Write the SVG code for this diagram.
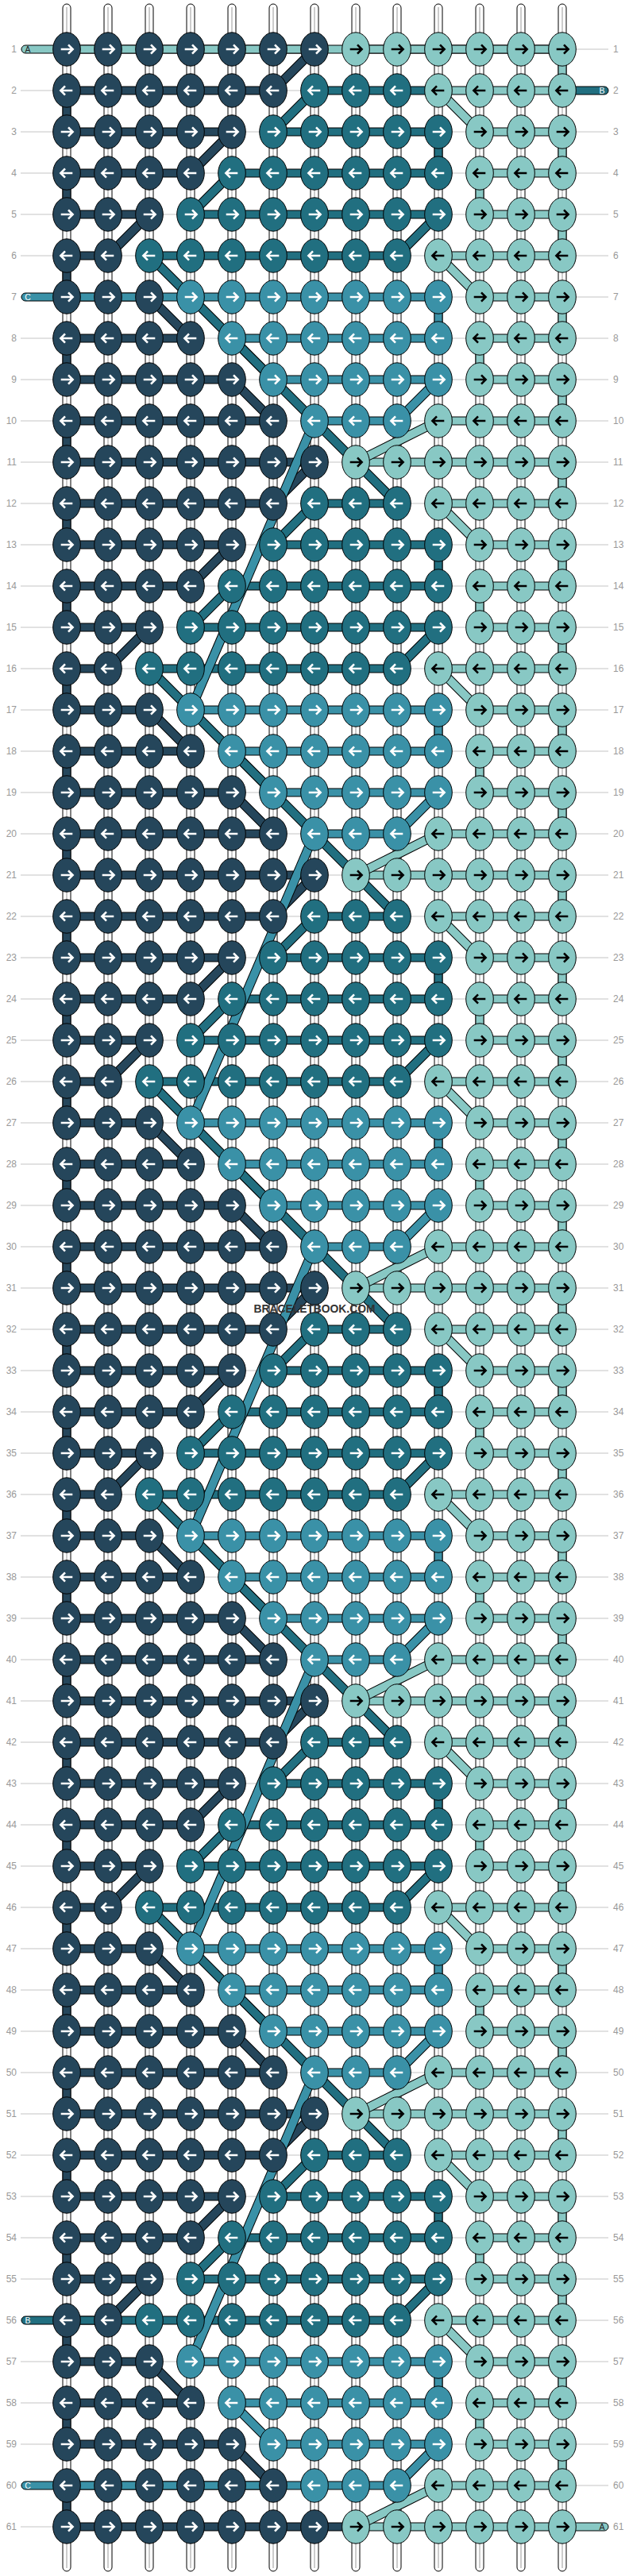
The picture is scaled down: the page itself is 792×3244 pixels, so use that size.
<svg xmlns="http://www.w3.org/2000/svg" width="792" height="3244" viewBox="0 0 792 3244">
<style>
.bg{fill:#fff}
.s{fill:#fff;stroke:#000;stroke-width:1}
.sl{fill:none;stroke:#999;stroke-width:1}
.gl{fill:none;stroke:#c4c4c4;stroke-width:1}
.k{stroke:#000;stroke-width:1}
.b{stroke:#000;stroke-width:1}
.N{fill:#25465b}.T{fill:#216f80}.M{fill:#3a91a7}.L{fill:#88c8c4}
.aw{fill:none;stroke:#fff;stroke-width:2.6}
.ab{fill:none;stroke:#000;stroke-width:2.6}
.o{fill:none;stroke:#000;stroke-width:12}
.dN{fill:none;stroke:#25465b;stroke-width:10}
.dT{fill:none;stroke:#216f80;stroke-width:10}
.dM{fill:none;stroke:#3a91a7;stroke-width:10}
.dL{fill:none;stroke:#88c8c4;stroke-width:10}
.nl{font-family:"Liberation Sans",Arial,sans-serif;font-size:12px;fill:#999;text-anchor:end}
.nr{font-family:"Liberation Sans",Arial,sans-serif;font-size:12px;fill:#999;text-anchor:start}
.el{font-family:"Liberation Sans",Arial,sans-serif;font-size:10.5px;text-anchor:middle}
.wm{font-family:"Liberation Sans",Arial,sans-serif;font-size:15px;font-weight:bold;fill:#333;text-anchor:middle}
</style>
<defs>
<g id="kNr"><ellipse class="k N" rx="17.3" ry="21.2"/><path class="aw" d="M-7.3 0H6.5M2-5.6L7.6 0L2 5.6"/></g>
<g id="kNl"><ellipse class="k N" rx="17.3" ry="21.2"/><path class="aw" d="M7.3 0H-6.5M-2-5.6L-7.6 0L-2 5.6"/></g>
<g id="kTr"><ellipse class="k T" rx="17.3" ry="21.2"/><path class="aw" d="M-7.3 0H6.5M2-5.6L7.6 0L2 5.6"/></g>
<g id="kTl"><ellipse class="k T" rx="17.3" ry="21.2"/><path class="aw" d="M7.3 0H-6.5M-2-5.6L-7.6 0L-2 5.6"/></g>
<g id="kMr"><ellipse class="k M" rx="17.3" ry="21.2"/><path class="aw" d="M-7.3 0H6.5M2-5.6L7.6 0L2 5.6"/></g>
<g id="kMl"><ellipse class="k M" rx="17.3" ry="21.2"/><path class="aw" d="M7.3 0H-6.5M-2-5.6L-7.6 0L-2 5.6"/></g>
<g id="kLr"><ellipse class="k L" rx="17.3" ry="21.2"/><path class="ab" d="M-7.3 0H6.5M2-5.6L7.6 0L2 5.6"/></g>
<g id="kLl"><ellipse class="k L" rx="17.3" ry="21.2"/><path class="ab" d="M7.3 0H-6.5M-2-5.6L-7.6 0L-2 5.6"/></g>
<g id="rt1"><use href="#kNr" x="84"/><use href="#kNr" x="136"/><use href="#kNr" x="188"/><use href="#kNr" x="240"/><use href="#kNr" x="292"/><use href="#kNr" x="344"/><use href="#kNr" x="396"/><use href="#kLr" x="448"/><use href="#kLr" x="500"/><use href="#kLr" x="552"/><use href="#kLr" x="604"/><use href="#kLr" x="656"/><use href="#kLr" x="708"/></g>
<g id="rt2"><use href="#kNl" x="84"/><use href="#kNl" x="136"/><use href="#kNl" x="188"/><use href="#kNl" x="240"/><use href="#kNl" x="292"/><use href="#kNl" x="344"/><use href="#kTl" x="396"/><use href="#kTl" x="448"/><use href="#kTl" x="500"/><use href="#kLl" x="552"/><use href="#kLl" x="604"/><use href="#kLl" x="656"/><use href="#kLl" x="708"/></g>
<g id="rt3"><use href="#kNr" x="84"/><use href="#kNr" x="136"/><use href="#kNr" x="188"/><use href="#kNr" x="240"/><use href="#kNr" x="292"/><use href="#kTr" x="344"/><use href="#kTr" x="396"/><use href="#kTr" x="448"/><use href="#kTr" x="500"/><use href="#kTr" x="552"/><use href="#kLr" x="604"/><use href="#kLr" x="656"/><use href="#kLr" x="708"/></g>
<g id="rt4"><use href="#kNl" x="84"/><use href="#kNl" x="136"/><use href="#kNl" x="188"/><use href="#kNl" x="240"/><use href="#kTl" x="292"/><use href="#kTl" x="344"/><use href="#kTl" x="396"/><use href="#kTl" x="448"/><use href="#kTl" x="500"/><use href="#kTl" x="552"/><use href="#kLl" x="604"/><use href="#kLl" x="656"/><use href="#kLl" x="708"/></g>
<g id="rt5"><use href="#kNr" x="84"/><use href="#kNr" x="136"/><use href="#kNr" x="188"/><use href="#kTr" x="240"/><use href="#kTr" x="292"/><use href="#kTr" x="344"/><use href="#kTr" x="396"/><use href="#kTr" x="448"/><use href="#kTr" x="500"/><use href="#kTr" x="552"/><use href="#kLr" x="604"/><use href="#kLr" x="656"/><use href="#kLr" x="708"/></g>
<g id="rt6"><use href="#kNl" x="84"/><use href="#kNl" x="136"/><use href="#kTl" x="188"/><use href="#kTl" x="240"/><use href="#kTl" x="292"/><use href="#kTl" x="344"/><use href="#kTl" x="396"/><use href="#kTl" x="448"/><use href="#kTl" x="500"/><use href="#kLl" x="552"/><use href="#kLl" x="604"/><use href="#kLl" x="656"/><use href="#kLl" x="708"/></g>
<g id="rt7"><use href="#kNr" x="84"/><use href="#kNr" x="136"/><use href="#kNr" x="188"/><use href="#kMr" x="240"/><use href="#kMr" x="292"/><use href="#kMr" x="344"/><use href="#kMr" x="396"/><use href="#kMr" x="448"/><use href="#kMr" x="500"/><use href="#kMr" x="552"/><use href="#kLr" x="604"/><use href="#kLr" x="656"/><use href="#kLr" x="708"/></g>
<g id="rt8"><use href="#kNl" x="84"/><use href="#kNl" x="136"/><use href="#kNl" x="188"/><use href="#kNl" x="240"/><use href="#kMl" x="292"/><use href="#kMl" x="344"/><use href="#kMl" x="396"/><use href="#kMl" x="448"/><use href="#kMl" x="500"/><use href="#kMl" x="552"/><use href="#kLl" x="604"/><use href="#kLl" x="656"/><use href="#kLl" x="708"/></g>
<g id="rt9"><use href="#kNr" x="84"/><use href="#kNr" x="136"/><use href="#kNr" x="188"/><use href="#kNr" x="240"/><use href="#kNr" x="292"/><use href="#kMr" x="344"/><use href="#kMr" x="396"/><use href="#kMr" x="448"/><use href="#kMr" x="500"/><use href="#kMr" x="552"/><use href="#kLr" x="604"/><use href="#kLr" x="656"/><use href="#kLr" x="708"/></g>
<g id="rt10"><use href="#kNl" x="84"/><use href="#kNl" x="136"/><use href="#kNl" x="188"/><use href="#kNl" x="240"/><use href="#kNl" x="292"/><use href="#kNl" x="344"/><use href="#kMl" x="396"/><use href="#kMl" x="448"/><use href="#kMl" x="500"/><use href="#kLl" x="552"/><use href="#kLl" x="604"/><use href="#kLl" x="656"/><use href="#kLl" x="708"/></g>
<g id="glP" class="gl"><path d="M26 62H766M26 114H766M26 166H766M26 218H766M26 270H766M26 322H766M26 374H766M26 426H766M26 478H766M26 530H766"/></g>
<g id="bandsP">
<rect class="b N" x="84" y="57" width="312" height="10"/><rect class="b L" x="448" y="57" width="260" height="10"/>
<rect class="b N" x="84" y="109" width="260" height="10"/><rect class="b T" x="396" y="109" width="104" height="10"/><rect class="b L" x="552" y="109" width="156" height="10"/>
<rect class="b N" x="84" y="161" width="208" height="10"/><rect class="b T" x="344" y="161" width="208" height="10"/><rect class="b L" x="604" y="161" width="104" height="10"/>
<rect class="b N" x="84" y="213" width="156" height="10"/><rect class="b T" x="292" y="213" width="260" height="10"/><rect class="b L" x="604" y="213" width="104" height="10"/>
<rect class="b N" x="84" y="265" width="104" height="10"/><rect class="b T" x="240" y="265" width="312" height="10"/><rect class="b L" x="604" y="265" width="104" height="10"/>
<rect class="b N" x="84" y="317" width="52" height="10"/><rect class="b T" x="188" y="317" width="312" height="10"/><rect class="b L" x="552" y="317" width="156" height="10"/>
<rect class="b N" x="84" y="369" width="104" height="10"/><rect class="b M" x="240" y="369" width="312" height="10"/><rect class="b L" x="604" y="369" width="104" height="10"/>
<rect class="b N" x="84" y="421" width="156" height="10"/><rect class="b M" x="292" y="421" width="260" height="10"/><rect class="b L" x="604" y="421" width="104" height="10"/>
<rect class="b N" x="84" y="473" width="208" height="10"/><rect class="b M" x="344" y="473" width="208" height="10"/><rect class="b L" x="604" y="473" width="104" height="10"/>
<rect class="b N" x="84" y="525" width="260" height="10"/><rect class="b M" x="396" y="525" width="104" height="10"/><rect class="b L" x="552" y="525" width="156" height="10"/>
</g>
<g id="vP">
<rect class="b N" x="79" y="114" width="10" height="52"/><rect class="b N" x="79" y="218" width="10" height="52"/><rect class="b N" x="79" y="322" width="10" height="52"/><rect class="b N" x="79" y="426" width="10" height="52"/><rect class="b N" x="79" y="530" width="10" height="52"/>
<rect class="b L" x="703" y="62" width="10" height="52"/><rect class="b L" x="703" y="166" width="10" height="52"/><rect class="b L" x="703" y="270" width="10" height="52"/><rect class="b L" x="703" y="374" width="10" height="52"/><rect class="b L" x="703" y="478" width="10" height="52"/>
<rect class="b L" x="599" y="218" width="10" height="52"/><rect class="b L" x="599" y="426" width="10" height="52"/>
<rect class="b T" x="547" y="166" width="10" height="52"/>
<rect class="b M" x="547" y="374" width="10" height="52"/>
</g>
<g id="dP">
<path class="o" d="M396 62L344 114M292 166L240 218M188 270L136 322M188 374L240 426M292 478L344 530M396 114L344 166M292 218L240 270M552 270L500 322M552 114L604 166M552 322L604 374M552 530L448 582M292 426L344 478M552 478L500 530"/>
<path class="dN" d="M396 62L344 114M292 166L240 218M188 270L136 322M188 374L240 426M292 478L344 530"/>
<path class="dT" d="M396 114L344 166M292 218L240 270M552 270L500 322"/>
<path class="dL" d="M552 114L604 166M552 322L604 374M552 530L448 582"/>
<path class="dM" d="M292 426L344 478M552 478L500 530"/>
</g>
<g id="dC"><path class="o" d="M188 322L500 634"/><path class="dT" d="M188 322L500 634"/></g>
<g id="dMl"><path class="o" d="M396 530L240 894"/><path class="dM" d="M396 530L240 894"/></g>
</defs>
<rect class="bg" x="0" y="0" width="792" height="3244"/>
<g id="strings">
<rect class="s" x="79" y="5" width="10" height="3233" rx="5"/><rect class="s" x="131" y="5" width="10" height="3233" rx="5"/><rect class="s" x="183" y="5" width="10" height="3233" rx="5"/><rect class="s" x="235" y="5" width="10" height="3233" rx="5"/><rect class="s" x="287" y="5" width="10" height="3233" rx="5"/><rect class="s" x="339" y="5" width="10" height="3233" rx="5"/><rect class="s" x="391" y="5" width="10" height="3233" rx="5"/><rect class="s" x="443" y="5" width="10" height="3233" rx="5"/><rect class="s" x="495" y="5" width="10" height="3233" rx="5"/><rect class="s" x="547" y="5" width="10" height="3233" rx="5"/><rect class="s" x="599" y="5" width="10" height="3233" rx="5"/><rect class="s" x="651" y="5" width="10" height="3233" rx="5"/><rect class="s" x="703" y="5" width="10" height="3233" rx="5"/>
<path class="sl" d="M84 9V3234M136 9V3234M188 9V3234M240 9V3234M292 9V3234M344 9V3234M396 9V3234M448 9V3234M500 9V3234M552 9V3234M604 9V3234M656 9V3234M708 9V3234"/>
</g>
<g id="guides">
<use href="#glP" y="0"/><use href="#glP" y="520"/><use href="#glP" y="1040"/><use href="#glP" y="1560"/><use href="#glP" y="2080"/><use href="#glP" y="2600"/>
<path class="gl" d="M26 3182H766"/>
</g>
<g id="connectors">
<use href="#bandsP" y="0"/><use href="#bandsP" y="520"/><use href="#bandsP" y="1040"/><use href="#bandsP" y="1560"/><use href="#bandsP" y="2080"/><use href="#bandsP" y="2600"/>
<rect class="b L" x="27" y="57" width="681" height="10" rx="5"/>
<rect class="b T" x="500" y="109" width="52" height="10"/>
<rect class="b T" x="700" y="109" width="66" height="10" rx="5"/>
<rect class="b M" x="27" y="369" width="213" height="10" rx="5"/>
<rect class="b T" x="27" y="2917" width="161" height="10" rx="5"/>
<rect class="b M" x="27" y="3125" width="369" height="10" rx="5"/>
<rect class="b N" x="84" y="3177" width="364" height="10"/>
<rect class="b L" x="448" y="3177" width="260" height="10"/>
<rect class="b L" x="700" y="3177" width="66" height="10" rx="5"/>
<use href="#vP" y="0"/><use href="#vP" y="520"/><use href="#vP" y="1040"/><use href="#vP" y="1560"/><use href="#vP" y="2080"/><use href="#vP" y="2600"/>
<use href="#dP" y="0"/><use href="#dP" y="520"/><use href="#dP" y="1040"/><use href="#dP" y="1560"/><use href="#dP" y="2080"/><use href="#dP" y="2600"/>
<use href="#dC" y="0"/><use href="#dC" y="520"/><use href="#dC" y="1040"/><use href="#dC" y="1560"/><use href="#dC" y="2080"/>
<use href="#dMl" y="0"/><use href="#dMl" y="520"/><use href="#dMl" y="1040"/><use href="#dMl" y="1560"/><use href="#dMl" y="2080"/>
</g>
<g id="knots">
<use id="row-1" href="#rt1" y="62"/><use id="row-2" href="#rt2" y="114"/><use id="row-3" href="#rt3" y="166"/><use id="row-4" href="#rt4" y="218"/><use id="row-5" href="#rt5" y="270"/><use id="row-6" href="#rt6" y="322"/><use id="row-7" href="#rt7" y="374"/><use id="row-8" href="#rt8" y="426"/><use id="row-9" href="#rt9" y="478"/><use id="row-10" href="#rt10" y="530"/>
<use id="row-11" href="#rt1" y="582"/><use id="row-12" href="#rt2" y="634"/><use id="row-13" href="#rt3" y="686"/><use id="row-14" href="#rt4" y="738"/><use id="row-15" href="#rt5" y="790"/><use id="row-16" href="#rt6" y="842"/><use id="row-17" href="#rt7" y="894"/><use id="row-18" href="#rt8" y="946"/><use id="row-19" href="#rt9" y="998"/><use id="row-20" href="#rt10" y="1050"/>
<use id="row-21" href="#rt1" y="1102"/><use id="row-22" href="#rt2" y="1154"/><use id="row-23" href="#rt3" y="1206"/><use id="row-24" href="#rt4" y="1258"/><use id="row-25" href="#rt5" y="1310"/><use id="row-26" href="#rt6" y="1362"/><use id="row-27" href="#rt7" y="1414"/><use id="row-28" href="#rt8" y="1466"/><use id="row-29" href="#rt9" y="1518"/><use id="row-30" href="#rt10" y="1570"/>
<use id="row-31" href="#rt1" y="1622"/><use id="row-32" href="#rt2" y="1674"/><use id="row-33" href="#rt3" y="1726"/><use id="row-34" href="#rt4" y="1778"/><use id="row-35" href="#rt5" y="1830"/><use id="row-36" href="#rt6" y="1882"/><use id="row-37" href="#rt7" y="1934"/><use id="row-38" href="#rt8" y="1986"/><use id="row-39" href="#rt9" y="2038"/><use id="row-40" href="#rt10" y="2090"/>
<use id="row-41" href="#rt1" y="2142"/><use id="row-42" href="#rt2" y="2194"/><use id="row-43" href="#rt3" y="2246"/><use id="row-44" href="#rt4" y="2298"/><use id="row-45" href="#rt5" y="2350"/><use id="row-46" href="#rt6" y="2402"/><use id="row-47" href="#rt7" y="2454"/><use id="row-48" href="#rt8" y="2506"/><use id="row-49" href="#rt9" y="2558"/><use id="row-50" href="#rt10" y="2610"/>
<use id="row-51" href="#rt1" y="2662"/><use id="row-52" href="#rt2" y="2714"/><use id="row-53" href="#rt3" y="2766"/><use id="row-54" href="#rt4" y="2818"/><use id="row-55" href="#rt5" y="2870"/><use id="row-56" href="#rt6" y="2922"/><use id="row-57" href="#rt7" y="2974"/><use id="row-58" href="#rt8" y="3026"/><use id="row-59" href="#rt9" y="3078"/><use id="row-60" href="#rt10" y="3130"/>
<use id="row-61" href="#rt1" y="3182"/>
</g>
<g id="string-labels">
<text class="el" x="35" y="66" fill="#222">A</text>
<text class="el" x="758" y="118" fill="#fff">B</text>
<text class="el" x="35" y="378" fill="#fff">C</text>
<text class="el" x="35" y="2926" fill="#fff">B</text>
<text class="el" x="35" y="3134" fill="#fff">C</text>
<text class="el" x="758" y="3186" fill="#222">A</text>
</g>
<g id="row-numbers-left">
<text class="nl" x="21" y="66">1</text><text class="nl" x="21" y="118">2</text><text class="nl" x="21" y="170">3</text><text class="nl" x="21" y="222">4</text><text class="nl" x="21" y="274">5</text><text class="nl" x="21" y="326">6</text><text class="nl" x="21" y="378">7</text><text class="nl" x="21" y="430">8</text><text class="nl" x="21" y="482">9</text><text class="nl" x="21" y="534">10</text>
<text class="nl" x="21" y="586">11</text><text class="nl" x="21" y="638">12</text><text class="nl" x="21" y="690">13</text><text class="nl" x="21" y="742">14</text><text class="nl" x="21" y="794">15</text><text class="nl" x="21" y="846">16</text><text class="nl" x="21" y="898">17</text><text class="nl" x="21" y="950">18</text><text class="nl" x="21" y="1002">19</text><text class="nl" x="21" y="1054">20</text>
<text class="nl" x="21" y="1106">21</text><text class="nl" x="21" y="1158">22</text><text class="nl" x="21" y="1210">23</text><text class="nl" x="21" y="1262">24</text><text class="nl" x="21" y="1314">25</text><text class="nl" x="21" y="1366">26</text><text class="nl" x="21" y="1418">27</text><text class="nl" x="21" y="1470">28</text><text class="nl" x="21" y="1522">29</text><text class="nl" x="21" y="1574">30</text>
<text class="nl" x="21" y="1626">31</text><text class="nl" x="21" y="1678">32</text><text class="nl" x="21" y="1730">33</text><text class="nl" x="21" y="1782">34</text><text class="nl" x="21" y="1834">35</text><text class="nl" x="21" y="1886">36</text><text class="nl" x="21" y="1938">37</text><text class="nl" x="21" y="1990">38</text><text class="nl" x="21" y="2042">39</text><text class="nl" x="21" y="2094">40</text>
<text class="nl" x="21" y="2146">41</text><text class="nl" x="21" y="2198">42</text><text class="nl" x="21" y="2250">43</text><text class="nl" x="21" y="2302">44</text><text class="nl" x="21" y="2354">45</text><text class="nl" x="21" y="2406">46</text><text class="nl" x="21" y="2458">47</text><text class="nl" x="21" y="2510">48</text><text class="nl" x="21" y="2562">49</text><text class="nl" x="21" y="2614">50</text>
<text class="nl" x="21" y="2666">51</text><text class="nl" x="21" y="2718">52</text><text class="nl" x="21" y="2770">53</text><text class="nl" x="21" y="2822">54</text><text class="nl" x="21" y="2874">55</text><text class="nl" x="21" y="2926">56</text><text class="nl" x="21" y="2978">57</text><text class="nl" x="21" y="3030">58</text><text class="nl" x="21" y="3082">59</text><text class="nl" x="21" y="3134">60</text>
<text class="nl" x="21" y="3186">61</text>
</g>
<g id="row-numbers-right">
<text class="nr" x="772" y="66">1</text><text class="nr" x="772" y="118">2</text><text class="nr" x="772" y="170">3</text><text class="nr" x="772" y="222">4</text><text class="nr" x="772" y="274">5</text><text class="nr" x="772" y="326">6</text><text class="nr" x="772" y="378">7</text><text class="nr" x="772" y="430">8</text><text class="nr" x="772" y="482">9</text><text class="nr" x="772" y="534">10</text>
<text class="nr" x="772" y="586">11</text><text class="nr" x="772" y="638">12</text><text class="nr" x="772" y="690">13</text><text class="nr" x="772" y="742">14</text><text class="nr" x="772" y="794">15</text><text class="nr" x="772" y="846">16</text><text class="nr" x="772" y="898">17</text><text class="nr" x="772" y="950">18</text><text class="nr" x="772" y="1002">19</text><text class="nr" x="772" y="1054">20</text>
<text class="nr" x="772" y="1106">21</text><text class="nr" x="772" y="1158">22</text><text class="nr" x="772" y="1210">23</text><text class="nr" x="772" y="1262">24</text><text class="nr" x="772" y="1314">25</text><text class="nr" x="772" y="1366">26</text><text class="nr" x="772" y="1418">27</text><text class="nr" x="772" y="1470">28</text><text class="nr" x="772" y="1522">29</text><text class="nr" x="772" y="1574">30</text>
<text class="nr" x="772" y="1626">31</text><text class="nr" x="772" y="1678">32</text><text class="nr" x="772" y="1730">33</text><text class="nr" x="772" y="1782">34</text><text class="nr" x="772" y="1834">35</text><text class="nr" x="772" y="1886">36</text><text class="nr" x="772" y="1938">37</text><text class="nr" x="772" y="1990">38</text><text class="nr" x="772" y="2042">39</text><text class="nr" x="772" y="2094">40</text>
<text class="nr" x="772" y="2146">41</text><text class="nr" x="772" y="2198">42</text><text class="nr" x="772" y="2250">43</text><text class="nr" x="772" y="2302">44</text><text class="nr" x="772" y="2354">45</text><text class="nr" x="772" y="2406">46</text><text class="nr" x="772" y="2458">47</text><text class="nr" x="772" y="2510">48</text><text class="nr" x="772" y="2562">49</text><text class="nr" x="772" y="2614">50</text>
<text class="nr" x="772" y="2666">51</text><text class="nr" x="772" y="2718">52</text><text class="nr" x="772" y="2770">53</text><text class="nr" x="772" y="2822">54</text><text class="nr" x="772" y="2874">55</text><text class="nr" x="772" y="2926">56</text><text class="nr" x="772" y="2978">57</text><text class="nr" x="772" y="3030">58</text><text class="nr" x="772" y="3082">59</text><text class="nr" x="772" y="3134">60</text>
<text class="nr" x="772" y="3186">61</text>
</g>
<text class="wm" x="396" y="1653" textLength="153" lengthAdjust="spacingAndGlyphs">BRACELETBOOK.COM</text>
</svg>
